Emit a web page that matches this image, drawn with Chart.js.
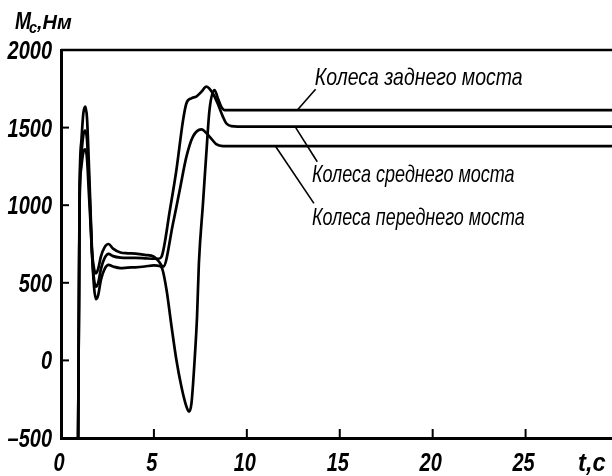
<!DOCTYPE html>
<html>
<head>
<meta charset="utf-8">
<script src="https://cdn.jsdelivr.net/npm/chart.js@4/dist/chart.umd.min.js"></script>
<style>
  html, body { margin: 0; padding: 0; background: #fff; }
  #wrap { width: 612px; height: 476px; }
</style>
</head>
<body>
<div id="wrap"><canvas id="c" width="612" height="476"></canvas></div>
<script>
const FONT = "'Liberation Sans', 'DejaVu Sans', sans-serif";

// Axis ticks
const xTicks = [0, 5, 10, 15, 20, 25];
const yTicks = [-500, 0, 500, 1000, 1500, 2000];

// Series names (wheel groups)
const seriesNames = ['Колеса заднего моста', 'Колеса среднего моста', 'Колеса переднего моста'];

// Rear axle wheels: time, s / moment, N·m
const rearT = [0.92, 0.97, 1.00, 1.10, 1.20, 1.31, 1.40, 1.49, 1.58, 1.67, 1.78, 1.88, 2.00, 2.15, 2.35, 2.56, 2.80, 3.20, 3.60, 4.00, 4.50, 5.00, 5.30, 5.45, 5.68, 5.95, 6.21, 6.48, 6.75, 6.89, 7.02, 7.19, 7.32, 7.42, 7.64, 7.82, 7.99, 8.26, 8.44, 8.62, 8.80, 9.20, 29.65];
const rearM = [-500, 450, 1100, 1420, 1590, 1635, 1560, 1300, 1000, 700, 470, 394, 420, 520, 590, 615, 605, 595, 598, 600, 605, 612, 608, 590, 454, 217, 2, -170, -298, -330, -277, 2, 281, 626, 1012, 1334, 1613, 1742, 1689, 1635, 1613, 1612, 1612];

// Middle axle wheels
const midT = [0.92, 0.97, 1.00, 1.10, 1.20, 1.31, 1.40, 1.49, 1.58, 1.67, 1.78, 1.88, 2.00, 2.15, 2.35, 2.56, 2.80, 3.20, 3.60, 4.00, 4.50, 5.00, 5.25, 5.41, 5.86, 6.21, 6.57, 6.75, 7.02, 7.28, 7.55, 7.82, 8.16, 8.42, 8.71, 8.89, 9.16, 10.0, 29.65];
const midM = [-500, 450, 1050, 1330, 1450, 1480, 1420, 1200, 950, 680, 520, 475, 500, 590, 660, 686, 672, 662, 660, 660, 658, 655, 655, 668, 969, 1227, 1549, 1657, 1689, 1700, 1730, 1764, 1723, 1658, 1571, 1528, 1510, 1506, 1506];

// Front axle wheels
const frontT = [0.92, 0.97, 1.00, 1.10, 1.20, 1.31, 1.40, 1.49, 1.58, 1.67, 1.78, 1.88, 2.00, 2.15, 2.35, 2.56, 2.80, 3.20, 3.60, 4.00, 4.50, 5.00, 5.25, 5.50, 6.03, 6.39, 6.75, 7.10, 7.55, 7.99, 8.35, 8.71, 9.20, 29.65];
const frontM = [-500, 450, 1000, 1250, 1340, 1360, 1300, 1100, 900, 700, 590, 561, 590, 670, 730, 750, 720, 695, 690, 688, 680, 668, 640, 604, 884, 1098, 1313, 1442, 1489, 1442, 1394, 1381, 1380, 1380];

// Callout text: start t, end t, baseline M; leader from (t, M) to (t, M) on the curve
const labelSpan  = [[13.66, 24.84, 1774], [13.50, 24.41, 1151], [13.50, 24.95, 872]];
const leaderFrom = [[13.70, 1747], [13.79, 1280], [13.61, 1012]];
const leaderTo   = [[12.72, 1613], [12.63, 1500], [11.56, 1377]];

const toPoints = (T, M) => T.map((t, i) => ({ x: t, y: M[i] }));
const tickText = v => (v < 0 ? '\u2013' + Math.abs(v) : String(v));

const lineStyle = {
  borderColor: '#000',
  borderWidth: 2.7,
  pointRadius: 0,
  fill: false,
  cubicInterpolationMode: 'monotone'
};

// Narrow drafting-style lettering: regular italic face squeezed horizontally
function narrowText(ctx, text, x, y, font, sx, align) {
  ctx.save();
  ctx.font = font;
  ctx.textAlign = align || 'left';
  ctx.translate(x, y);
  ctx.scale(sx, 1);
  ctx.fillText(text, 0, 0);
  ctx.restore();
}

const decor = {
  id: 'decor',
  afterDatasetsDraw(chart) {
    const { ctx, chartArea: a, scales: { x, y } } = chart;
    const seg = (x1, y1, x2, y2) => { ctx.beginPath(); ctx.moveTo(x1, y1); ctx.lineTo(x2, y2); ctx.stroke(); };
    ctx.save();
    ctx.strokeStyle = '#000';
    ctx.fillStyle = '#000';
    ctx.lineCap = 'butt';
    ctx.textBaseline = 'alphabetic';

    // upper frame line
    ctx.lineWidth = 2.5;
    seg(a.left, a.top, a.right, a.top);

    // inward tick marks and tick labels
    const tickFont = `italic bold 25px ${FONT}`;
    ctx.lineWidth = 2;
    yTicks.forEach(v => {
      const py = y.getPixelForValue(v);
      if (v > y.min && v < y.max) seg(a.left, py, a.left + 8, py);
      narrowText(ctx, tickText(v), a.left - 9, py + 9, tickFont, 0.8, 'right');
    });
    xTicks.forEach(v => {
      const px = x.getPixelForValue(v);
      if (v > x.min && v < x.max) seg(px, a.bottom, px, a.bottom - 9);
      narrowText(ctx, tickText(v), px - 2, a.bottom + 33, tickFont, 0.8, 'center');
    });

    // leader lines and callout text
    ctx.lineWidth = 1.6;
    const calloutFont = `italic 24px ${FONT}`;
    ctx.font = calloutFont;
    seriesNames.forEach((name, i) => {
      seg(x.getPixelForValue(leaderFrom[i][0]), y.getPixelForValue(leaderFrom[i][1]),
          x.getPixelForValue(leaderTo[i][0]), y.getPixelForValue(leaderTo[i][1]));
      const x0 = x.getPixelForValue(labelSpan[i][0]);
      const x1 = x.getPixelForValue(labelSpan[i][1]);
      const sx = (x1 - x0) / ctx.measureText(name).width;
      narrowText(ctx, name, x0, y.getPixelForValue(labelSpan[i][2]), calloutFont, sx, 'left');
    });

    // axis titles
    narrowText(ctx, 'M', 15, 29, `italic bold 24px ${FONT}`, 0.8);
    narrowText(ctx, 'c', 29, 33, `italic bold 17px ${FONT}`, 0.85);
    narrowText(ctx, ',Нм', 37, 29, `italic bold 21px ${FONT}`, 0.95);
    narrowText(ctx, 't,c', 578, a.bottom + 33, tickFont, 0.95);
    ctx.restore();
  }
};

new Chart(document.getElementById('c'), {
  type: 'line',
  data: {
    datasets: [
      { label: seriesNames[0], data: toPoints(rearT, rearM), ...lineStyle },
      { label: seriesNames[1], data: toPoints(midT, midM), ...lineStyle },
      { label: seriesNames[2], data: toPoints(frontT, frontM), ...lineStyle }
    ]
  },
  options: {
    responsive: false,
    animation: false,
    devicePixelRatio: 1,
    layout: { padding: { top: 50, right: 0, left: 0, bottom: 0 } },
    plugins: { legend: { display: false }, tooltip: { enabled: false } },
    scales: {
      x: {
        type: 'linear',
        min: 0,
        max: 29.65,
        grid: { display: false, drawTicks: false },
        border: { display: true, color: '#000', width: 3 },
        ticks: { display: false },
        afterBuildTicks: s => { s.ticks = xTicks.map(v => ({ value: v })); },
        afterFit: s => { s.height = 38; }
      },
      y: {
        type: 'linear',
        min: -500,
        max: 2000,
        grid: { display: false, drawTicks: false },
        border: { display: true, color: '#000', width: 3 },
        ticks: { display: false },
        afterBuildTicks: s => { s.ticks = yTicks.map(v => ({ value: v })); },
        afterFit: s => { s.width = 61; }
      }
    }
  },
  plugins: [decor]
});
</script>
</body>
</html>
